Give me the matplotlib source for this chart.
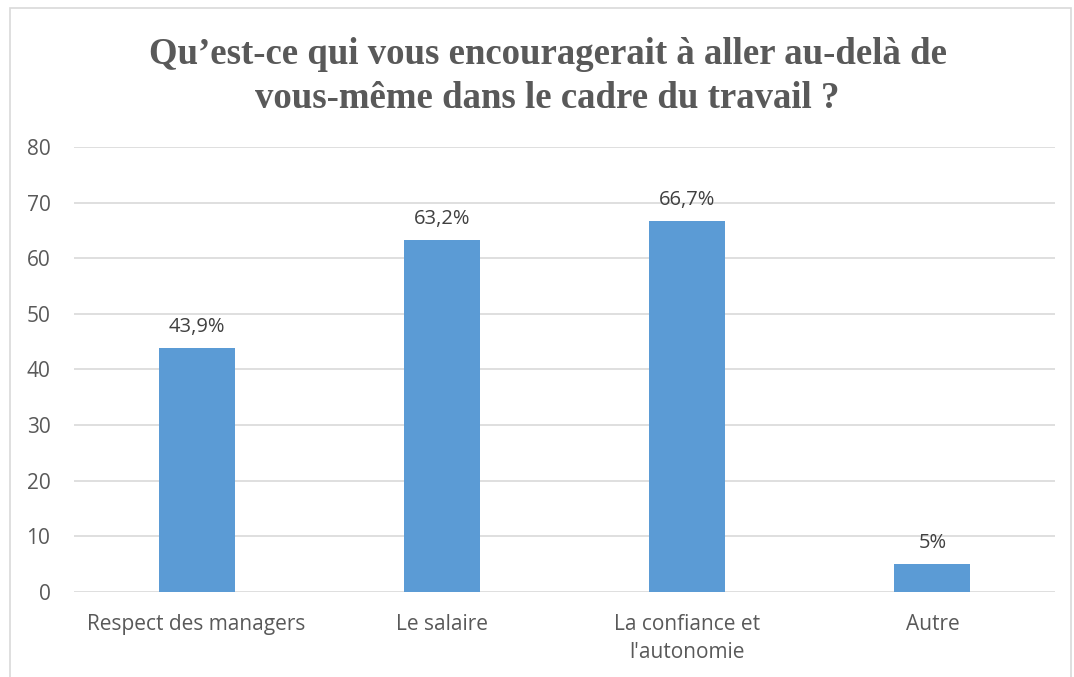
import matplotlib.pyplot as plt
from matplotlib.patches import Rectangle

# Data
categories = ["Respect des managers", "Le salaire", "La confiance et\nl'autonomie", "Autre"]
values = [43.9, 63.2, 66.7, 5]
labels = ["43,9%", "63,2%", "66,7%", "5%"]
yticks = [0, 10, 20, 30, 40, 50, 60, 70, 80]

text_col = "#595959"
grid_col = "#D9D9D9"
bar_col = "#5B9BD5"

fig = plt.figure(figsize=(10.74, 6.77), dpi=100)
ax = fig.add_axes([0.0689, 0.1256, 0.9135, 0.6573])

# chart border
fig.patches.append(Rectangle((10 / 1074, -0.02), 1061 / 1074, 1.02 - 8 / 677,
                             transform=fig.transFigure, fill=False,
                             edgecolor=grid_col, linewidth=1.2))

x = range(len(categories))
ax.bar(x, values, width=0.31, color=bar_col, zorder=3)
for i, v in enumerate(values):
    ax.annotate(labels[i], (i, v), xytext=(0, 8), textcoords="offset points",
                ha="center", va="bottom", fontsize=14.5, color="#404040",
                family="Open Sans")

ax.set_xlim(-0.5, len(categories) - 0.5)
ax.set_ylim(0, 80)
ax.set_yticks(yticks)
ax.set_xticks(list(x))
ax.set_xticklabels(categories, fontsize=15, color=text_col, family="Open Sans",
                   linespacing=1.4)
ax.tick_params(axis="y", labelsize=15, labelcolor=text_col, length=0, pad=17)
ax.tick_params(axis="x", length=0, pad=16)
for lbl in ax.get_yticklabels():
    lbl.set_family("Open Sans")

ax.grid(axis="y", color=grid_col, linewidth=1.2, zorder=0)
for s in ax.spines.values():
    s.set_visible(False)

fig.text(0.51, 0.887, "Qu\u2019est-ce qui vous encouragerait à aller au-delà de\nvous-même dans le cadre du travail ?",
         ha="center", va="center", fontsize=26.5, fontweight="bold",
         family="Liberation Serif", color=text_col, linespacing=1.32)

fig.savefig("out.png", dpi=100)
